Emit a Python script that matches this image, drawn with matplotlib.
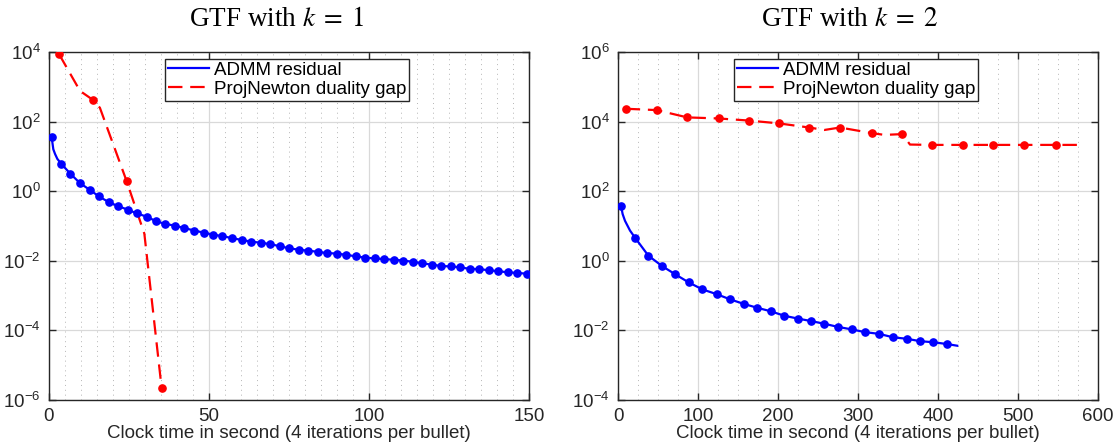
import matplotlib
matplotlib.use("Agg")
import matplotlib.pyplot as plt
from matplotlib.ticker import MultipleLocator, NullLocator, LogFormatterSciNotation, FixedLocator

plt.rcParams["font.family"] = ["Liberation Sans", "DejaVu Sans"]
plt.rcParams["mathtext.fontset"] = "stix"
plt.rcParams["axes.unicode_minus"] = False

# ---------------- data: GTF with k = 1 ----------------
admm1_t = [0.8, 3.8, 6.7, 9.7, 12.7, 15.6, 18.6, 21.6, 24.6, 27.5,
           30.5, 33.4, 36.3, 39.4, 42.3, 45.4, 48.3, 51.3, 54.2, 57.2,
           60.2, 63.2, 66.1, 69.1, 72.1, 75.0, 78.0, 81.0, 84.0, 86.9,
           89.9, 92.9, 95.8, 98.8, 101.8, 104.7, 107.7, 110.7, 113.7, 116.6,
           119.6, 122.6, 125.5, 128.5, 131.5, 134.4, 137.4, 140.4, 143.4, 146.3,
           149.3]
admm1_v = [37.2, 6.17, 3.16, 1.70, 1.10, 0.708, 0.490, 0.372, 0.295, 0.229,
           0.186, 0.138, 0.115, 0.102, 0.0871, 0.0741, 0.0646, 0.0562, 0.0513, 0.0447,
           0.0398, 0.0355, 0.0331, 0.0302, 0.0263, 0.0229, 0.0209, 0.0195, 0.0182, 0.0166,
           0.0162, 0.0148, 0.0135, 0.0123, 0.0117, 0.0112, 0.0107, 0.0102, 0.00933, 0.00851,
           0.00776, 0.00708, 0.0069, 0.00646, 0.00589, 0.00575, 0.00537, 0.00501, 0.00468, 0.00447,
           0.00427]
# extra line-only points of the ADMM curve between the first two bullets
admm1_line_t = [0.8, 1.35, 1.9, 2.6] + admm1_t[1:]
admm1_line_v = [37.2, 16.0, 11.7, 8.5] + admm1_v[1:]

pn1_t = [3.2, 13.9, 24.3, 35.2]
pn1_v = [8500, 410, 1.9, 2.2e-6]
pn1_line_t = [3.2, 9.7, 13.9, 15.9, 24.3, 29.8, 35.2]
pn1_line_v = [8500, 760, 410, 250, 1.9, 0.060, 2.2e-6]

# ---------------- data: GTF with k = 2 ----------------
admm2_t = [3.75, 21.7, 37.9, 55.0, 71.7, 88.3, 105.4, 123.3, 140.4, 157.5,
           174.0, 190.8, 208.0, 224.6, 241.0, 258.0, 275.0, 292.0, 308.8, 326.6,
           344.0, 361.0, 377.5, 394.0, 410.8]
admm2_v = [38, 4.47, 1.41, 0.708, 0.407, 0.240, 0.151, 0.110, 0.0776, 0.0575,
           0.0447, 0.0355, 0.0263, 0.0219, 0.0186, 0.0155, 0.0126, 0.0107, 0.00891, 0.00794,
           0.00631, 0.00575, 0.00490, 0.00457, 0.00407]
admm2_line_t = [3.75, 5.8, 8.75, 15.0] + admm2_t[1:] + [424.0]
admm2_line_v = [38, 22, 14.1, 7.4] + admm2_v[1:] + [0.00363]

pn2_t = [9.6, 48.3, 86.6, 126.0, 164.0, 200.8, 239.0, 277.5, 317.0, 355.4,
         392.9, 430.8, 469.0, 507.9, 547.0]
pn2_v = [23400, 21400, 13200, 12300, 10700, 8900, 6760, 6760, 4680, 4370,
         2140, 2140, 2140, 2140, 2140]
pn2_line_t = [9.6, 48.3, 86.6, 126.0, 164.0, 200.8, 239.0, 258.0, 277.5, 317.0,
              333.0, 355.4, 365.0, 392.9, 430.8, 469.0, 507.9, 547.0, 575.4]
pn2_line_v = [23400, 21400, 13200, 12300, 10700, 8900, 6760, 5750, 6760, 4680,
              4150, 4370, 2190, 2140, 2140, 2140, 2140, 2140, 2140]

titles = [r"GTF with $k\;=\;1$", r"GTF with $k\;=\;2$"]
xlabel = "Clock time in second (4 iterations per bullet)"
labels = ["ADMM residual", "ProjNewton duality gap"]
xlims = [(0, 150), (0, 600)]
xmajor = [50, 100]
xminor = [5, 25]
ylims = [(1e-6, 1e4), (1e-4, 1e6)]
yticks = [[1e-6, 1e-4, 1e-2, 1e0, 1e2, 1e4], [1e-4, 1e-2, 1e0, 1e2, 1e4, 1e6]]
title_x = [0.475, 0.483]

BLUE = "#0000ff"
RED = "#ff0000"
DARK = "#262626"

fig = plt.figure(figsize=(11.16, 4.42), dpi=100)
ax1 = fig.add_axes([49 / 1116, 1 - 400 / 442, 480 / 1116, 348 / 442])
ax2 = fig.add_axes([618 / 1116, 1 - 400 / 442, 480 / 1116, 348 / 442])

datasets = [
    (admm1_t, admm1_v, admm1_line_t, admm1_line_v, pn1_t, pn1_v, pn1_line_t, pn1_line_v),
    (admm2_t, admm2_v, admm2_line_t, admm2_line_v, pn2_t, pn2_v, pn2_line_t, pn2_line_v),
]

dash = (0, (6.5, 3.5))
for i, ax in enumerate([ax1, ax2]):
    at, av, alt, alv, pt, pv, plt_, plv = datasets[i]
    ax.set_yscale("log")
    l1, = ax.plot(alt, alv, color=BLUE, lw=1.6, label=labels[0], zorder=3)
    ax.plot(at, av, ls="none", marker="o", ms=5.2, color=BLUE, mec=BLUE, zorder=4)
    l2, = ax.plot(plt_, plv, color=RED, lw=1.6, ls=dash, label=labels[1], zorder=3)
    ax.plot(pt, pv, ls="none", marker="o", ms=5.2, color=RED, mec=RED, zorder=4)

    ax.set_xlim(*xlims[i])
    ax.set_ylim(*ylims[i])
    ax.xaxis.set_major_locator(MultipleLocator(xmajor[i]))
    ax.xaxis.set_minor_locator(MultipleLocator(xminor[i]))
    ax.yaxis.set_major_locator(FixedLocator(yticks[i]))
    ax.yaxis.set_major_formatter(LogFormatterSciNotation())
    ax.yaxis.set_minor_locator(NullLocator())

    ax.grid(which="major", color="#d9d9d9", lw=0.9, ls="-", zorder=0)
    ax.grid(which="minor", axis="x", color="#b5b5b5", lw=0.7, ls=(0, (1, 4)), zorder=0)
    ax.set_axisbelow(True)

    ax.tick_params(which="major", direction="in", top=True, right=True, length=5,
                   width=1.0, color=DARK, labelcolor=DARK, labelsize=13.5, pad=6)
    ax.tick_params(which="minor", length=0, top=True, right=True)
    for s in ax.spines.values():
        s.set_color(DARK)
        s.set_linewidth(1.0)

    ax.set_xlabel(xlabel, fontsize=13.5, color=DARK, labelpad=0)
    ax.set_title(titles[i], fontsize=19.5, family="Liberation Serif", x=title_x[i], pad=19)

    leg = ax.legend(handles=[l1, l2], loc="upper left", bbox_to_anchor=(0.2417, 0.98),
                    fontsize=13.5, frameon=True, fancybox=False, framealpha=1,
                    edgecolor=DARK, borderpad=0.15, labelspacing=0.1,
                    handlelength=2.2, handletextpad=0.25, borderaxespad=0)
    leg.get_frame().set_linewidth(1.0)

fig.savefig("out.png", dpi=100)
